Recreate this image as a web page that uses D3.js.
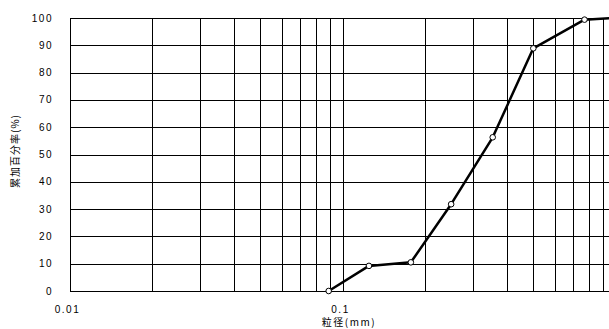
<!DOCTYPE html>
<html>
<head>
<meta charset="utf-8">
<script src="https://cdn.jsdelivr.net/npm/d3@7"></script>
<style>
  body { margin: 0; background: #fff; }
  text { font-family: "Liberation Sans", Arial, sans-serif; fill: #000; }
  .grid line { stroke: #000; stroke-width: 1; shape-rendering: crispEdges; }
</style>
</head>
<body>
<script>
// sieve sizes (mm) and cumulative percent passing
var sizes = [0.089, 0.125, 0.178, 0.25, 0.355, 0.5, 0.77, 1.0];
var passing = [0, 9.2, 10.5, 31.8, 56.3, 88.9, 99.4, 100];
var xTicks = [0.01, 0.1];
var xTickLabels = ["0.01", "0.1"];
var yTicks = [0, 10, 20, 30, 40, 50, 60, 70, 80, 90, 100];

var W = 609, H = 329;
var svg = d3.select("body").append("svg").attr("width", W).attr("height", H);

var x = d3.scaleLog().domain([0.01, 1]).range([69.5, 615.5]);
var y = d3.scaleLinear().domain([0, 100]).range([291, 18]);

// minor vertical grid (every 1..9 per decade)
var vLines = [];
[0.01, 0.1].forEach(function(dec) {
  for (var k = 1; k <= 9; k++) vLines.push(dec * k);
});
vLines.push(1);

var grid = svg.append("g").attr("class", "grid");
grid.selectAll(".v").data(vLines).enter().append("line")
  .attr("x1", function(d) { return Math.round(x(d)) + 0.5; })
  .attr("x2", function(d) { return Math.round(x(d)) + 0.5; })
  .attr("y1", y(100)).attr("y2", y(0));
grid.selectAll(".h").data(yTicks).enter().append("line")
  .attr("x1", x(0.01)).attr("x2", W)
  .attr("y1", function(d) { return Math.round(y(d)) + 0.5; })
  .attr("y2", function(d) { return Math.round(y(d)) + 0.5; });

// y tick labels
svg.selectAll(".ylab").data(yTicks).enter().append("text")
  .attr("x", 53).attr("y", function(d) { return y(d); })
  .attr("text-anchor", "end").attr("dy", "0.35em")
  .style("font-size", "10px").style("letter-spacing", "1.5px")
  .text(function(d) { return d; });

// x tick labels
svg.selectAll(".xlab").data(xTicks).enter().append("text")
  .attr("x", function(d) { return x(d) - 2; }).attr("y", 313)
  .attr("text-anchor", "middle")
  .style("font-size", "10px").style("letter-spacing", "1.5px")
  .text(function(d, i) { return xTickLabels[i]; });

// axis titles
svg.append("text")
  .attr("x", 349).attr("y", 326).attr("text-anchor", "middle")
  .style("font-family", "'Noto Sans CJK JP', sans-serif")
  .style("font-size", "10px").style("letter-spacing", "1.5px")
  .text("粒径(mm)");
svg.append("text")
  .attr("transform", "translate(19,151) rotate(-90)")
  .attr("text-anchor", "middle")
  .style("font-family", "'Noto Sans CJK JP', sans-serif")
  .style("font-size", "10px").style("letter-spacing", "1px")
  .text("累加百分率(%)");

// curve
var pts = sizes.map(function(s, i) { return [s, passing[i]]; });
var line = d3.line().x(function(d) { return x(d[0]); }).y(function(d) { return y(d[1]); });
svg.append("path").datum(pts)
  .attr("d", line).attr("fill", "none")
  .attr("stroke", "#000").attr("stroke-width", 2.5)
  .attr("stroke-linejoin", "round");

svg.selectAll(".pt").data(pts).enter().append("circle")
  .attr("cx", function(d) { return x(d[0]); })
  .attr("cy", function(d) { return y(d[1]); })
  .attr("r", 2.8)
  .attr("fill", "#fff").attr("stroke", "#000").attr("stroke-width", 1);
</script>
</body>
</html>
